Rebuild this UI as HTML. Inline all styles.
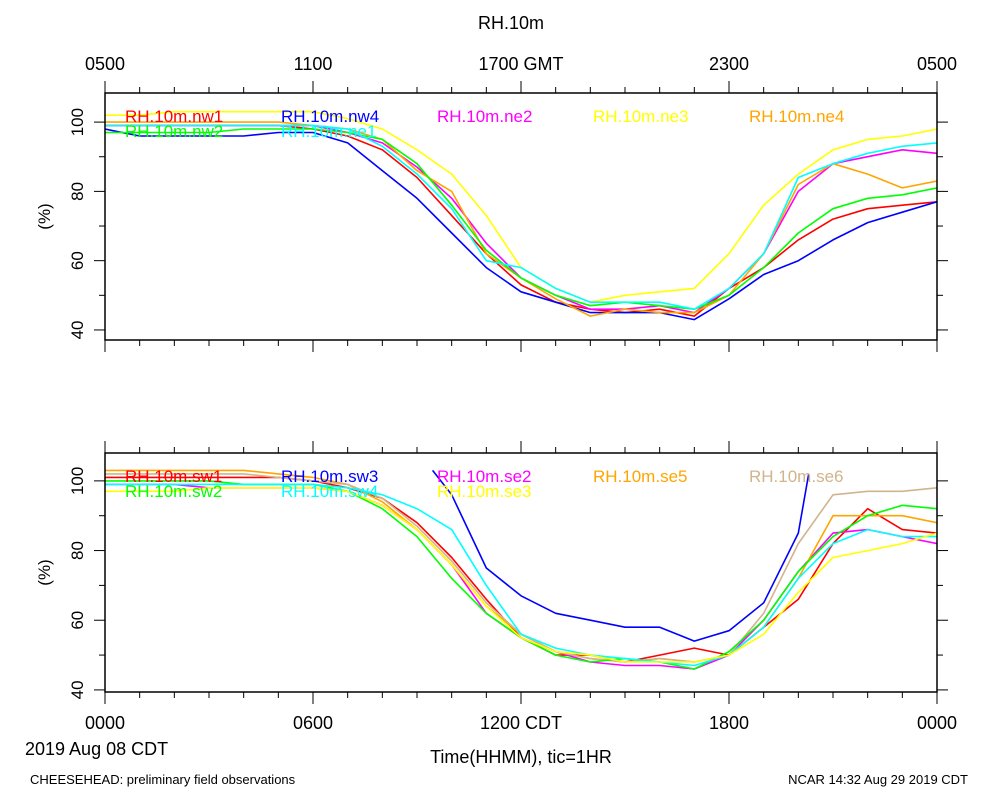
<!DOCTYPE html>
<html><head><meta charset="utf-8"><style>
body{margin:0;background:#fff}
svg{display:block;font-family:"Liberation Sans",sans-serif}
</style></head><body>
<svg id="c" width="1000" height="800" viewBox="0 0 1000 800">
<text x="511" y="29" font-size="18" text-anchor="middle">RH.10m</text>
<text x="30" y="784" font-size="13">CHEESEHEAD: preliminary field observations</text>
<text x="968" y="784" font-size="13" text-anchor="end">NCAR 14:32 Aug 29 2019 CDT</text>
<text x="25" y="755" font-size="18">2019 Aug 08 CDT</text>
<text x="521" y="763" font-size="18" text-anchor="middle">Time(HHMM), tic=1HR</text>
<g id="plots"></g>
</svg>
<script>
const hours=[0,1,2,3,4,5,6,7,8,9,10,11,12,13,14,15,16,17,18,19,20,21,22,23,24];
const topLabels=["0500","1100","1700 GMT","2300","0500"];
const bottomLabels=["0000","0600","1200 CDT","1800","0000"];
const yTicks=[40,60,80,100];
const topNames=["RH.10m.nw1","RH.10m.nw4","RH.10m.ne2","RH.10m.ne3","RH.10m.ne4","RH.10m.nw2","RH.10m.ne1"];
const topColors=["#ff0000","#0000ff","#ff00ff","#ffff00","#ffa500","#00ff00","#00ffff"];
const nw1=[99,99,99,99,99,99,98,96,92,84,73,62,53,48,46,45,46,44,52,58,66,72,75,76,77];
const nw4=[98,96,96,96,96,97,97,94,86,78,68,58,51,48,45,45,45,43,49,56,60,66,71,74,77];
const ne2=[99,99,99,99,99,99,99,97,94,87,78,65,55,50,46,46,47,45,52,62,80,88,90,92,91];
const ne3=[102,102,103,103,103,103,103,101,98,92,85,73,58,52,48,50,51,52,62,76,85,92,95,96,98];
const ne4=[100,100,100,100,100,100,99,98,95,86,80,62,55,49,44,46,45,45,50,62,82,88,85,81,83];
const nw2=[97,97,97,97,98,98,98,97,95,88,76,63,55,50,47,48,47,46,50,58,68,75,78,79,81];
const ne1=[99,99,99,99,99,99,99,98,93,85,75,60,58,52,48,48,48,46,52,62,84,88,91,93,94];
const topSeries=[nw1,nw4,ne2,ne3,ne4,nw2,ne1];
const botNames=["RH.10m.sw1","RH.10m.sw3","RH.10m.se2","RH.10m.se5","RH.10m.se6","RH.10m.sw2","RH.10m.sw4","RH.10m.se3"];
const botColors=["#ff0000","#0000ff","#ff00ff","#ffa500","#d2b48c","#00ff00","#00ffff","#ffff00"];
const sw1=[101,101,101,101,101,101,100,98,95,88,78,66,55,50,50,48,50,52,50,58,66,82,92,86,85];
const sw3=[null,null,null,null,null,null,null,null,null,null,96,75,67,62,60,58,58,54,57,65,85,null,null,null,null];
const se2=[99,99,99,98,98,98,98,97,93,86,76,62,55,51,48,47,47,46,50,60,74,85,86,84,82];
const se5=[103,103,103,103,103,102,101,99,94,86,76,64,56,51,49,48,49,48,50,58,72,90,90,90,88];
const se6=[102,102,102,102,102,101,100,99,95,87,77,65,56,51,49,48,49,48,50,62,82,96,97,97,98];
const sw2=[100,100,100,100,99,99,99,97,92,84,72,62,55,50,48,49,48,46,51,60,74,84,90,93,92];
const sw4=[99,99,99,99,99,99,99,98,96,92,86,70,56,52,50,49,48,47,50,58,72,82,86,84,84];
const se3=[97,97,97,98,98,98,98,97,93,86,76,64,55,51,50,48,48,48,50,56,68,78,80,82,85];
const botSeries=[sw1,sw3,se2,se5,se6,sw2,sw4,se3];
const NS="http://www.w3.org/2000/svg";
const g=document.getElementById('plots');
function mk(t,a,p){const e=document.createElementNS(NS,t);for(const k in a)e.setAttribute(k,a[k]);(p||g).appendChild(e);return e;}
const X0=105,X1=937;
function xs(h){return X0+(X1-X0)*h/24;}
function panel(name,top,bot,v0,v1,series,names,colors,topLab,botLab,extraStart){
  const ys=v=>bot-(v-v0)/(v1-v0)*(bot-top);
  const pg=mk('g',{});
  
  
  const clipId=name+'-clip';
  const cp=mk('clipPath',{id:clipId},pg);mk('rect',{x:X0,y:top,width:X1-X0,height:bot-top},cp);
  const lg=mk('g',{'clip-path':'url(#'+clipId+')'},pg);
  series.forEach((s,i)=>{
    let d='',pen=false;
    s.forEach((v,j)=>{if(v===null){pen=false;return;}
      let h=hours[j];
      if(extraStart&&i===extraStart.i&&!pen){const p=extraStart;d+='M'+xs(p.h).toFixed(1)+','+ys(p.v).toFixed(1);pen=true;}
      d+=(pen?'L':'M')+xs(h).toFixed(1)+','+ys(v).toFixed(1);pen=true;});
    if(extraStart&&i===extraStart.i){d+='L'+xs(extraStart.eh).toFixed(1)+','+ys(extraStart.ev).toFixed(1);}
    const p=mk('path',{d:d,fill:'none',stroke:colors[i],'stroke-width':1.6,'stroke-linejoin':'round'},lg);
    
    
  });
  const fr=mk('rect',{x:X0,y:top,width:X1-X0,height:bot-top,fill:'none',stroke:'#000','stroke-width':1.5},pg);
  
  
  for(let h=0;h<=24;h++){const L=h%6===0?12:6;const x=xs(h);
    mk('line',{x1:x,x2:x,y1:top,y2:top-L,stroke:'#000','stroke-width':1},pg);
    mk('line',{x1:x,x2:x,y1:bot,y2:bot+L,stroke:'#000','stroke-width':1},pg);}
  yTicks.forEach(v=>{const y=ys(v);
    mk('line',{x1:X0-11,x2:X0,y1:y,y2:y,stroke:'#000'},pg);
    mk('line',{x1:X1,x2:X1+11,y1:y,y2:y,stroke:'#000'},pg);
    const t=mk('text',{x:0,y:0,'font-size':17,'text-anchor':'middle',transform:'translate('+(X0-22)+','+y+') rotate(-90)'},pg);t.textContent=v;
    
    });
  for(let v=50;v<=90;v+=20){const y=ys(v);mk('line',{x1:X0-6,x2:X0,y1:y,y2:y,stroke:'#000'},pg);mk('line',{x1:X1,x2:X1+6,y1:y,y2:y,stroke:'#000'},pg);}
  const yt=mk('text',{x:0,y:0,'font-size':17,'text-anchor':'middle',transform:'translate(50,'+((top+bot)/2)+') rotate(-90)'},pg);yt.textContent='(%)';
  
  
  if(topLab)topLab.forEach((s,i)=>{const t=mk('text',{x:xs(i*6),y:top-23,'font-size':18,'text-anchor':'middle'},pg);t.textContent=s;
    
    });
  if(botLab)botLab.forEach((s,i)=>{const t=mk('text',{x:xs(i*6),y:bot+37,'font-size':18,'text-anchor':'middle'},pg);t.textContent=s;
    
    });
  names.forEach((n,i)=>{const row=i<5?0:1,col=i<5?i:i-5;
    const t=mk('text',{x:125+156*col,y:top+29+row*15,'font-size':17,fill:colors[i]},pg);t.textContent=n;
    
    });
}
panel('top-panel',93,340,37.1,108.4,topSeries,topNames,topColors,topLabels,null,null);
panel('bottom-panel',453,692,39.4,108,botSeries,botNames,botColors,null,bottomLabels,{i:1,h:9.45,v:103,eh:20.3,ev:102});
</script>
</body></html>
